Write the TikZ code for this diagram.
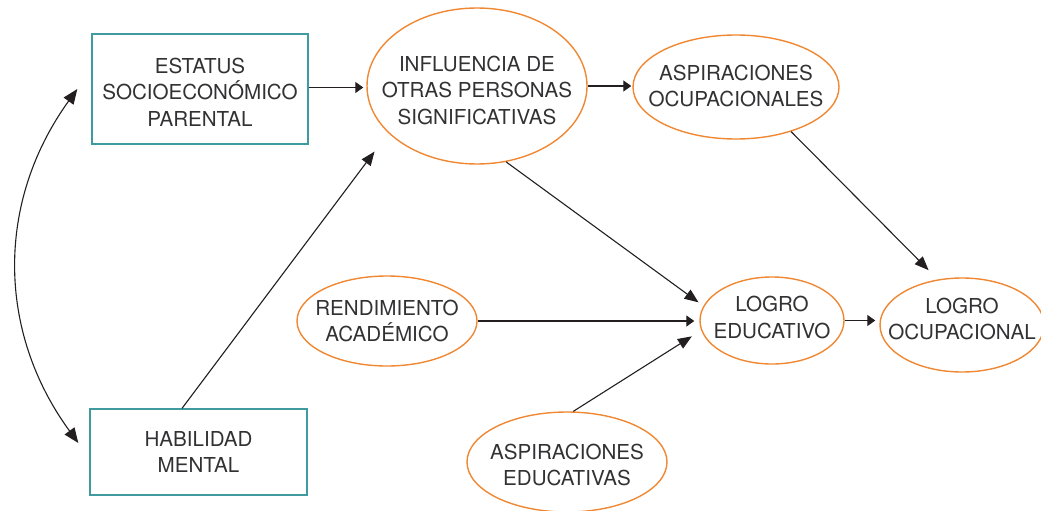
\documentclass[tikz,border=0pt]{standalone}
\usepackage{fontspec}
\setmainfont{TeX Gyre Heros}
\usetikzlibrary{shapes.geometric,arrows.meta}
\definecolor{boxteal}{RGB}{64,155,160}
\definecolor{ovalorange}{RGB}{240,135,50}
\definecolor{txtgray}{RGB}{50,50,52}
\definecolor{arrowblack}{RGB}{35,31,32}
\begin{document}
\begin{tikzpicture}[x=1pt,y=-1pt,
  txt/.style={align=center,font=\fontsize{20.6}{26.5}\selectfont,text=txtgray,inner sep=0pt},
  box/.style={rectangle,draw=boxteal,line width=1.3pt,inner sep=0pt},
  oval/.style={ellipse,draw=ovalorange,line width=1.4pt,inner sep=0pt},
  con/.style={draw=arrowblack,line width=1.1pt},
  harr/.style={con,-{Triangle[length=8pt,width=11pt]}},
  darr/.style={con,-{Triangle[length=14pt,width=11pt]}},
  carr/.style={con,{Triangle[length=15pt,width=12pt]}-{Triangle[length=15pt,width=12pt]}}]
\useasboundingbox (0,0) rectangle (1041,511);

\node[box,minimum width=216pt,minimum height=110pt,
  label={[txt,yshift=-3pt]center:ESTATUS\\SOCIOECON\'OMICO\\PARENTAL}] (est) at (200,89) {};
\node[box,minimum width=217pt,minimum height=86pt,
  label={[txt]center:HABILIDAD\\MENTAL}] (hab) at (198.5,452) {};

\node[oval,minimum width=220pt,minimum height=156pt,
  label={[txt,yshift=-4pt]center:INFLUENCIA DE\\OTRAS PERSONAS\\SIGNIFICATIVAS}] (infl) at (477,86) {};
\node[oval,minimum width=206pt,minimum height=104pt,
  label={[txt,yshift=1pt]center:ASPIRACIONES\\OCUPACIONALES}] (aspoc) at (736,87) {};
\node[oval,minimum width=180pt,minimum height=90pt,
  label={[txt]center:RENDIMIENTO\\ACAD\'EMICO}] (rend) at (387,321) {};
\node[oval,minimum width=144pt,minimum height=87pt,
  label={[txt,yshift=3pt]center:LOGRO\\EDUCATIVO}] (loged) at (772,320.5) {};
\node[oval,minimum width=164pt,minimum height=94pt,
  label={[txt,yshift=6pt]center:LOGRO\\OCUPACIONAL}] (logoc) at (962,325) {};
\node[oval,minimum width=200pt,minimum height=100pt,
  label={[txt,yshift=-3pt]center:ASPIRACIONES\\EDUCATIVAS}] (asped) at (567,462) {};

\draw[carr] ([xshift=-14pt]est.west) to[bend right=36] ([xshift=-11pt,yshift=9pt]hab.west);
\draw[harr,shorten >=3pt] ([yshift=1.5pt]est.east) -- ([yshift=1.5pt]est.east -| infl.west);
\draw[harr,shorten >=1pt] (infl.east) -- (infl.east -| aspoc.west);
\draw[darr,shorten >=23pt] ([xshift=-16.5pt]hab.north) -- (infl.208.9);
\draw[darr,shorten >=6pt] (infl.-69.6) -- (loged.168);
\draw[harr,shorten >=5pt] (rend.east) -- (rend.east -| loged.west);
\draw[darr,shorten >=11pt] (asped.83.1) -- (loged.188.9);
\draw[darr,shorten >=13pt] (aspoc.-39.4) -- (logoc.118.1);
\draw[harr,shorten >=4pt] (loged.east) -- (loged.east -| logoc.west);
\end{tikzpicture}
\end{document}
